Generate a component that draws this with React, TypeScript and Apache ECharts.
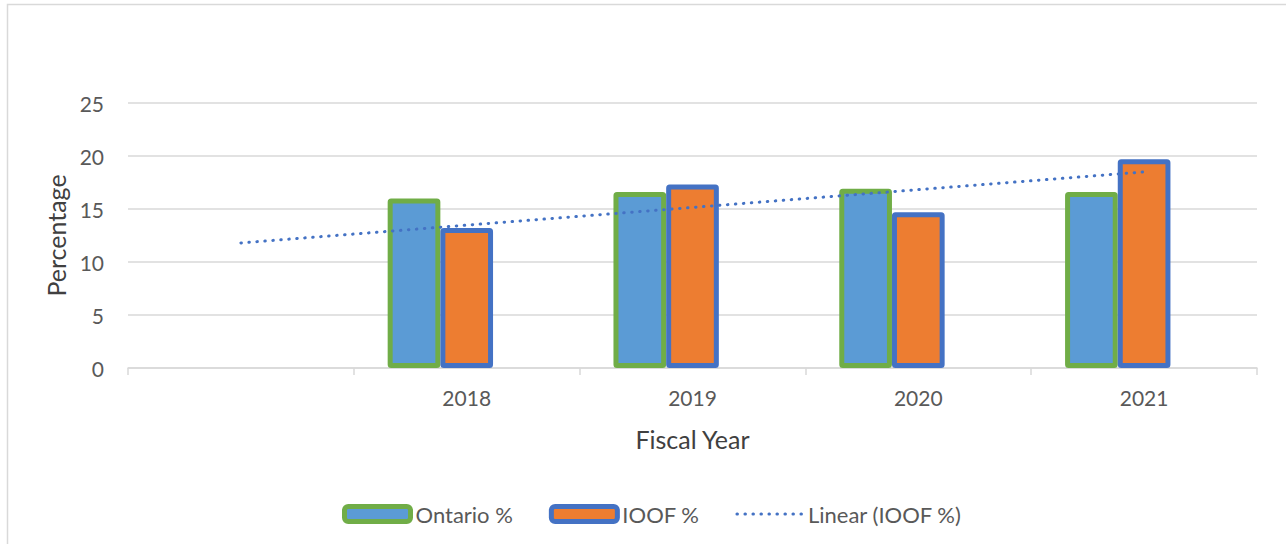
import React, { useEffect, useRef } from "react";
import * as echarts from "echarts";

const categories = ["", "2018", "2019", "2020", "2021"];
const ontario = [null, 16.0, 16.6, 16.9, 16.6];
const ioof = [null, 13.2, 17.3, 14.7, 19.7];
const placeholder = [null, null, null, null, null];
const trend = [11.8, null, null, null, 18.5];

const FONT = "Lato, 'Open Sans', sans-serif";
const TEXT = "#595959";

export default function App() {
  const ref = useRef<HTMLDivElement>(null);
  useEffect(() => {
    if (!ref.current) return;
    const chart = echarts.init(ref.current, undefined, { renderer: "svg" });
    chart.setOption({
      animation: false,
      backgroundColor: "#ffffff",
      textStyle: { fontFamily: FONT },
      graphic: [
        {
          type: "rect",
          z: -10,
          silent: true,
          shape: { x: 7.5, y: 4.5, width: 1320, height: 620 },
          style: { fill: "none", stroke: "#d9d9d9", lineWidth: 1.5 },
        },
      ],
      grid: { left: 128, right: 29, top: 103, bottom: 176 },
      legend: {
        left: 337,
        top: 498,
        itemWidth: 66,
        itemHeight: 15,
        itemGap: 36,
        textStyle: { color: TEXT, fontSize: 22, fontFamily: FONT },
        itemStyle: { borderWidth: "inherit" },
        lineStyle: { width: "inherit" },
        data: ["Ontario %", "IOOF %", "Linear (IOOF %)"],
      },
      xAxis: {
        type: "category",
        data: categories,
        boundaryGap: true,
        name: "Fiscal Year",
        nameLocation: "middle",
        nameGap: 58,
        nameTextStyle: { color: "#404040", fontSize: 25, fontFamily: FONT },
        axisLine: { lineStyle: { color: "#d9d9d9", width: 1.5 } },
        axisTick: { show: true, length: 7, lineStyle: { color: "#d9d9d9", width: 1.5 } },
        axisLabel: { color: TEXT, fontSize: 21, margin: 19, fontFamily: FONT },
      },
      yAxis: {
        type: "value",
        min: 0,
        max: 25,
        interval: 5,
        name: "Percentage",
        nameLocation: "middle",
        nameGap: 58,
        nameRotate: 90,
        nameTextStyle: { color: "#404040", fontSize: 25, fontFamily: FONT },
        axisLine: { show: false },
        axisTick: { show: false },
        axisLabel: { color: TEXT, fontSize: 21, margin: 24, fontFamily: FONT },
        splitLine: { lineStyle: { color: "#d9d9d9", width: 1.5 } },
      },
      series: [
        {
          name: "Ontario %",
          type: "bar",
          data: ontario,
          barGap: "0%",
          barCategoryGap: "30%",
          itemStyle: { color: "#5B9BD5", borderColor: "#70AD47", borderWidth: 5, borderRadius: 1 },
        },
        {
          name: "IOOF %",
          type: "bar",
          data: ioof,
          itemStyle: { color: "#ED7D31", borderColor: "#4472C4", borderWidth: 5, borderRadius: 1 },
        },
        {
          name: "placeholder",
          type: "bar",
          data: placeholder,
          itemStyle: { color: "transparent" },
        },
        {
          name: "Linear (IOOF %)",
          type: "line",
          data: trend,
          connectNulls: true,
          symbol: "none",
          z: 5,
          lineStyle: { color: "#4472C4", width: 3, type: [0.5, 7.5], cap: "round" },
          itemStyle: { color: "transparent" },
        },
      ],
    });
    return () => chart.dispose();
  }, []);
  return (
    <div
      ref={ref}
      style={{ position: "absolute", left: 0, top: 0, width: 1286, height: 544 }}
    />
  );
}
